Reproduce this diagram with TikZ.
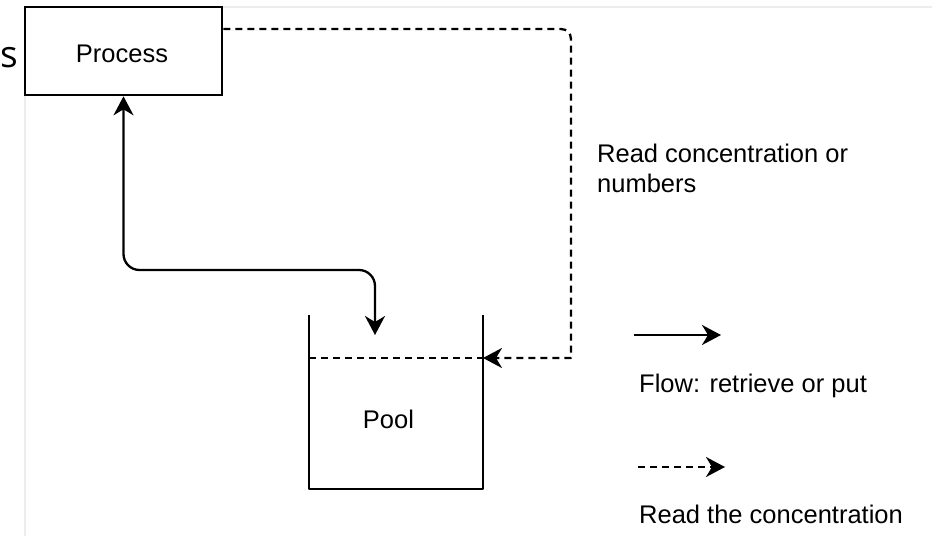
\documentclass[tikz,border=0pt]{standalone}
\usepackage{fontspec}
\setmainfont{Liberation Sans}
\newfontfamily\cutfont{Open Sans}
\usetikzlibrary{arrows.meta}
\begin{document}
\begin{tikzpicture}[x=1pt,y=-1pt,
  txt/.style={font=\fontsize{25.5}{30}\selectfont, inner sep=0pt},
  flow/.style={line width=2.3pt, line join=round,
    -{Stealth[length=19pt,width=20pt,inset=6pt]}},
  flowboth/.style={line width=2.3pt, line join=round,
    {Stealth[length=19pt,width=20pt,inset=6pt]}-{Stealth[length=19pt,width=20pt,inset=6pt]}},
  readc/.style={flow, dash pattern=on 7pt off 5pt},
  level/.style={line width=2.3pt, dash pattern=on 7pt off 5pt},
  wall/.style={line width=2.3pt, line join=round},
  frame/.style={draw=black!7, line width=1.5pt}
]
\useasboundingbox (0,0) rectangle (932,536);
% faint panel border
\draw[frame] (25,536) -- (25,7) -- (932,7);
% letter at left edge
\node[font=\cutfont\fontsize{37}{40}\selectfont, inner sep=0pt, anchor=base east] (cut) at (18,67) {s};
% Process box
\node[draw, line width=2.6pt, minimum width=197pt, minimum height=88pt, inner sep=0pt] (proc) at (123.5,51) {};
\node[txt, anchor=base] (proclbl) at (122,62) {Process};
% Pool
\coordinate (ptl) at (309,315);
\coordinate (pbl) at (309,489);
\coordinate (pbr) at (483,489);
\coordinate (ptr) at (483,315);
\draw[wall] (ptl) -- (pbl) -- (pbr) -- (ptr);
\coordinate (lvlL) at (309,358);
\coordinate (lvlR) at (483,358);
\draw[level] (lvlL) -- (lvlR);
\node[txt, anchor=base] (pool) at (388.5,428) {Pool};
\coordinate (pin) at (375,335);
% flow connector
\draw[flowboth, rounded corners=16pt] (proc.south) -- (123.5,270) -- (375,270) -- (pin);
% read connector
\draw[readc] ([yshift=22pt]proc.east) -- (561,29) arc[start angle=90, end angle=0, radius=10pt] -- (571,358) -- (lvlR);
\node[txt, anchor=base west, align=left] (rlbl) at (597,192) {Read concentration or\\numbers};
% legend
\coordinate (l1a) at (634,335);
\coordinate (l1b) at (721,335);
\draw[flow] (l1a) -- (l1b);
\node[txt, anchor=base west] (leg1) at (639,392) {Flow: retrieve or put};
\coordinate (l2a) at (638,467);
\coordinate (l2b) at (725,467);
\draw[readc] (l2a) -- (l2b);
\node[txt, anchor=base west] (leg2) at (639,523) {Read the concentration};
\end{tikzpicture}
\end{document}
